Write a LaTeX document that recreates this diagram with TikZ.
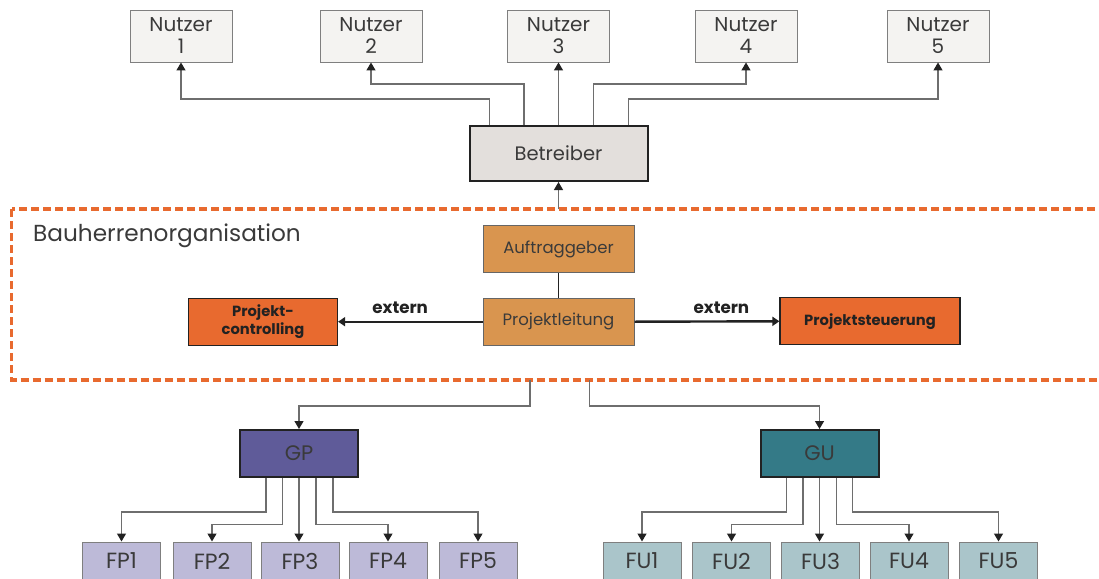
\documentclass[tikz,border=0pt]{standalone}
\usepackage{fontspec}
\setmainfont{Poppins}
\usetikzlibrary{arrows.meta}

\definecolor{txt}{HTML}{3A3A3A}
\definecolor{nfill}{HTML}{F4F3F1}
\definecolor{nline}{HTML}{7F7F7F}
\definecolor{bfill}{HTML}{E3DFDC}
\definecolor{dark}{HTML}{222222}
\definecolor{tan}{HTML}{D9954F}
\definecolor{tanline}{HTML}{666666}
\definecolor{orng}{HTML}{E86A2F}
\definecolor{gpfill}{HTML}{5F5B99}
\definecolor{gufill}{HTML}{347A87}
\definecolor{fpfill}{HTML}{BDBAD8}
\definecolor{fufill}{HTML}{AAC5CA}
\definecolor{wire}{HTML}{6E6E6E}

\tikzset{
  box/.style={inner sep=0pt, align=center, text=txt},
  nutzer/.style={box, fill=nfill, draw=nline, line width=0.9pt,
    minimum width=102pt, minimum height=52pt,
    font=\fontsize{20}{22}\selectfont},
  betreiber/.style={box, fill=bfill, draw=dark, line width=2pt,
    minimum width=178pt, minimum height=55pt,
    font=\fontsize{19.5}{22}\selectfont},
  tanbox/.style={box, fill=tan, draw=tanline, line width=1pt,
    minimum width=151pt, minimum height=47pt,
    font=\fontsize{16.5}{19}\selectfont},
  extbox/.style={box, fill=orng, draw=dark, line width=1.2pt,
    text=dark, font=\fontsize{14.7}{18}\bfseries\selectfont,
    minimum height=47pt},
  leadbox/.style={box, draw=dark, line width=2pt,
    minimum width=118pt, minimum height=47pt,
    font=\fontsize{21}{22}\selectfont},
  subbox/.style={box, draw=nline, line width=1pt,
    minimum width=78pt, minimum height=38pt,
    font=\fontsize{22}{24}\selectfont},
  orgframe/.style={draw=orng, line width=3.2pt, dash pattern=on 8pt off 4pt},
  conn/.style={draw=wire, line width=1.3pt,
    -{Triangle[width=9pt,length=8pt,color=dark]}},
  extarrow/.style={draw=dark, line width=2.4pt,
    -{Triangle[width=9pt,length=7pt]}},
  extlabel/.style={inner sep=0pt, text=dark,
    font=\fontsize{16.7}{18}\bfseries\selectfont}
}

\begin{document}
\begin{tikzpicture}[x=1pt, y=-1pt]
  \useasboundingbox (0,0) rectangle (1099,578);
  \clip (0,0) rectangle (1099,578);

  % users
  \node[nutzer] (n1) at (181,36)   {Nutzer\\1};
  \node[nutzer] (n2) at (371,36)   {Nutzer\\2};
  \node[nutzer] (n3) at (558.5,36) {Nutzer\\3};
  \node[nutzer] (n4) at (746,36)   {Nutzer\\4};
  \node[nutzer] (n5) at (938,36)   {Nutzer\\5};

  % operator
  \node[betreiber] (betr) at (558.5,153.5) {Betreiber};

  \draw[conn] ([xshift=-69pt]betr.north) -- ++(0,-26) -| (n1.south);
  \draw[conn] ([xshift=-34.5pt]betr.north) -- ++(0,-41) -| (n2.south);
  \draw[conn] (betr.north) -- (n3.south);
  \draw[conn] ([xshift=35pt]betr.north) -- ++(0,-41) -| (n4.south);
  \draw[conn] ([xshift=70pt]betr.north) -- ++(0,-26) -| (n5.south);

  % client organisation
  \draw[orgframe] (11.5,209) rectangle (1120,380);
  \coordinate (orgtop) at (558.5,209);
  \coordinate (gpsrc) at (530,380);
  \coordinate (gusrc) at (589.5,380);
  \node[anchor=base west, inner sep=0pt, text=txt,
        font=\fontsize{23.2}{26}\selectfont] (orgname) at (33,241)
        {Bauherrenorganisation};

  \draw[conn] (orgtop) -- (betr.south);

  \node[tanbox] (ag) at (558.5,249)   {Auftraggeber};
  \node[tanbox] (pl) at (558.5,321.7) {Projektleitung};
  \draw[dark, line width=1pt] (ag.south) -- (pl.north);

  \node[extbox, minimum width=149pt] (pc) at (263,321.7)
        {Projekt-\\controlling};
  \node[extbox, minimum width=180pt] (ps) at (870,321.3)
        {Projektsteuerung};

  \draw[extarrow] (pl.west) -- (pc.east)
        node[extlabel, pos=0.57, above=7pt] {extern};
  \draw[extarrow] (pl.east) -- (ps.west)
        node[extlabel, pos=0.6, above=7pt] {extern};

  % planners
  \node[leadbox, fill=gpfill] (gp) at (299,453.5) {GP};
  \node[subbox, fill=fpfill] (fp1) at (121.5,561) {FP1};
  \node[subbox, fill=fpfill] (fp2) at (212,561)   {FP2};
  \node[subbox, fill=fpfill] (fp3) at (300,561)   {FP3};
  \node[subbox, fill=fpfill] (fp4) at (388,561)   {FP4};
  \node[subbox, fill=fpfill] (fp5) at (478,561)   {FP5};

  \draw[conn] (gpsrc) -- ++(0,26) -| (gp.north);
  \draw[conn] ([xshift=-33pt]gp.south) -- ++(0,34) -| (fp1.north);
  \draw[conn] ([xshift=-16.5pt]gp.south) -- ++(0,46.5) -| (fp2.north);
  \draw[conn] (gp.south) -- (gp.south |- fp3.north);
  \draw[conn] ([xshift=17pt]gp.south) -- ++(0,46.5) -| (fp4.north);
  \draw[conn] ([xshift=34pt]gp.south) -- ++(0,34) -| (fp5.north);

  % contractors
  \node[leadbox, fill=gufill] (gu) at (819.5,453.5) {GU};
  \node[subbox, fill=fufill] (fu1) at (642,561)   {FU1};
  \node[subbox, fill=fufill] (fu2) at (731.5,561) {FU2};
  \node[subbox, fill=fufill] (fu3) at (820.5,561) {FU3};
  \node[subbox, fill=fufill] (fu4) at (909,561)   {FU4};
  \node[subbox, fill=fufill] (fu5) at (998.5,561) {FU5};

  \draw[conn] (gusrc) -- ++(0,26) -| (gu.north);
  \draw[conn] ([xshift=-33pt]gu.south) -- ++(0,34) -| (fu1.north);
  \draw[conn] ([xshift=-16.5pt]gu.south) -- ++(0,46.5) -| (fu2.north);
  \draw[conn] (gu.south) -- (gu.south |- fu3.north);
  \draw[conn] ([xshift=17pt]gu.south) -- ++(0,46.5) -| (fu4.north);
  \draw[conn] ([xshift=33pt]gu.south) -- ++(0,34) -| (fu5.north);
\end{tikzpicture}
\end{document}
